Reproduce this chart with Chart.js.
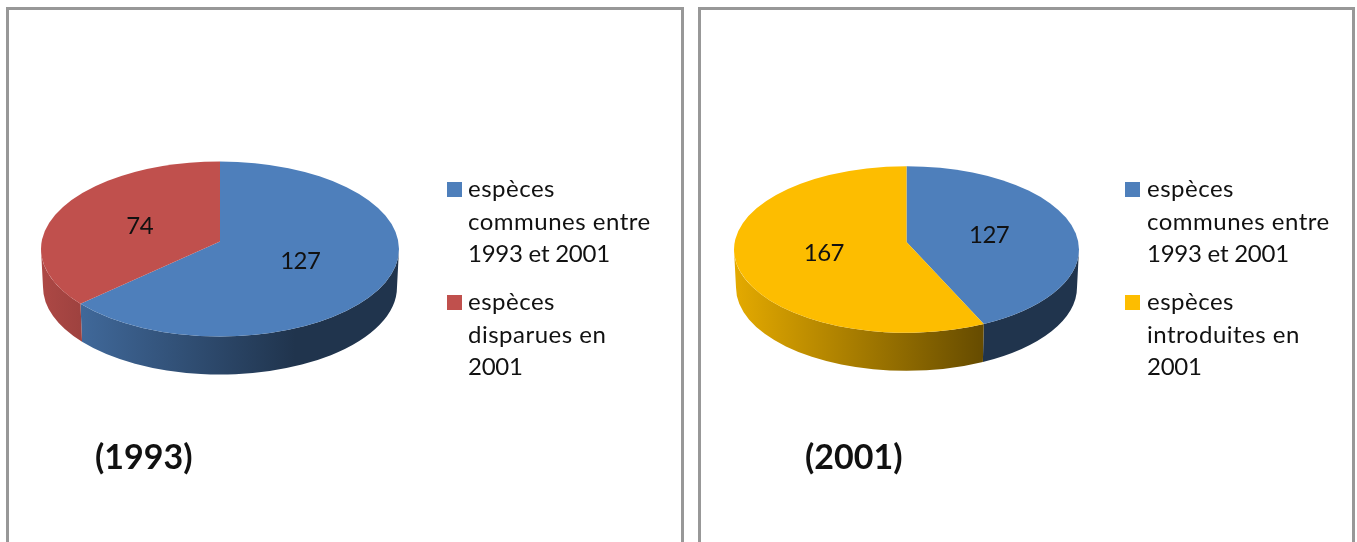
<!DOCTYPE html>
<html>
<head>
<meta charset="utf-8">
<script src="https://cdn.jsdelivr.net/npm/chart.js@4"></script>
<style>
    html, body { margin: 0; padding: 0; background: #fff; }
    body { position: relative; width: 1357px; height: 542px; overflow: hidden; font-family: Lato, sans-serif; color: #111; }
    .panel { position: absolute; top: 7px; height: 600px; box-sizing: border-box; border: 3px solid #989898; }
    .holder { position: absolute; top: 0; height: 542px; }
    .swatch { position: absolute; width: 15px; height: 15px; }
    .legendText { position: absolute; font-size: 24px; letter-spacing: 0.5px; line-height: 32.5px; white-space: nowrap; }
    .legendText .num { letter-spacing: -0.25px; }
    .year { position: absolute; top: 434px; font-size: 34px; line-height: 44px; font-weight: bold; white-space: nowrap; }
</style>
</head>
<body>
<div class="panel" style="left:6px;width:678px"></div>
<div class="panel" style="left:698px;width:657px"></div>
<div class="holder" style="left:0;width:690px"><canvas id="chart1993"></canvas></div>
<div class="holder" style="left:690px;width:667px"><canvas id="chart2001"></canvas></div>
<div id="legends"></div>
<script>
// data
const labels1993 = [["espèces", "communes entre", "1993 et 2001"], ["espèces", "disparues en", "2001"]];
const values1993 = [127, 74];
const colors1993 = ["#4e7fbb", "#c0504d"];
const title1993 = "(1993)";

const labels2001 = [["espèces", "communes entre", "1993 et 2001"], ["espèces", "introduites en", "2001"]];
const values2001 = [127, 167];
const colors2001 = ["#4e7fbb", "#fdbd00"];
const title2001 = "(2001)";

const squash1993 = 87.5 / 179;
const squash2001 = 83.3 / 172.5;
const depth = 38;
const tipLift = 7.5; // the pie's tip sits a bit above the middle of the ellipse
const perspective = 1.09; // front of the disc looks bigger than the back

function shade(hex, k) {
    const n = parseInt(hex.slice(1), 16);
    const r = Math.round((n >> 16) * k), g = Math.round(((n >> 8) & 255) * k), b = Math.round((n & 255) * k);
    return "rgb(" + r + "," + g + "," + b + ")";
}

// moves a slice edge along the rim the way the perspective does
function rimAngle(a) {
    const half = (a + Math.PI / 2) / 2;
    return 2 * Math.atan2(Math.sin(half), perspective * Math.cos(half)) - Math.PI / 2;
}

// tilts the pie: uses the arcs chart.js worked out and draws them as a thick disc
const tiltPlugin = {
    id: "tilt",
    beforeDatasetsDraw(chart, args, opts) {
        const ctx = chart.ctx;
        const arcs = chart.getDatasetMeta(0).data;
        const colors = chart.data.datasets[0].backgroundColor;

        arcs.forEach((arc, i) => {
            const rx = arc.outerRadius, ry = rx * opts.squash;
            const start = rimAngle(arc.startAngle), end = rimAngle(arc.endAngle);
            // front wall, only the part of the slice that faces us
            const a = Math.max(start, 0);
            const b = Math.min(end, Math.PI);
            if (b > a) {
                const grad = ctx.createLinearGradient(arc.x - rx, 0, arc.x + rx * 0.42, 0);
                grad.addColorStop(0, shade(colors[i], 0.9));
                grad.addColorStop(1, shade(colors[i], 0.41));
                ctx.beginPath();
                ctx.ellipse(arc.x, arc.y, rx, ry, 0, a, b);
                ctx.ellipse(arc.x, arc.y + depth, rx - 2, ry, 0, b, a, true);
                ctx.closePath();
                ctx.fillStyle = grad;
                ctx.fill();
            }
        });

        arcs.forEach((arc, i) => {
            const rx = arc.outerRadius, ry = rx * opts.squash;
            ctx.beginPath();
            ctx.moveTo(arc.x, arc.y - tipLift);
            ctx.ellipse(arc.x, arc.y, rx, ry, 0, rimAngle(arc.startAngle), rimAngle(arc.endAngle));
            ctx.closePath();
            ctx.fillStyle = colors[i];
            ctx.fill();
        });
        return false;
    },
    afterDraw(chart, args, opts) {
        const ctx = chart.ctx;
        const arcs = chart.getDatasetMeta(0).data;
        ctx.save();
        ctx.font = "24px Lato, sans-serif";
        ctx.letterSpacing = "-0.5px";
        ctx.fillStyle = "#111";
        ctx.textAlign = "center";
        ctx.textBaseline = "middle";
        arcs.forEach((arc, i) => {
            const mid = (arc.startAngle + arc.endAngle) / 2;
            const x = arc.x + Math.cos(mid) * arc.outerRadius * 0.49;
            const y = arc.y - tipLift + Math.sin(mid) * arc.outerRadius * opts.squash * 0.5 + 2;
            ctx.fillText(String(chart.data.datasets[0].data[i]), x, y);
        });
        ctx.restore();
    }
};

function makePie(id, labels, values, colors, squash, padding) {
    new Chart(document.getElementById(id), {
        type: "pie",
        data: {
            labels: labels.map(l => l.join(" ")),
            datasets: [{ data: values, backgroundColor: colors, borderWidth: 0 }]
        },
        options: {
            responsive: true,
            maintainAspectRatio: false,
            animation: false,
            layout: { padding: padding },
            plugins: {
                legend: { display: false },
                tooltip: { enabled: false },
                tilt: { squash: squash }
            }
        },
        plugins: [tiltPlugin]
    });
}

makePie("chart1993", labels1993, values1993, colors1993, squash1993, { left: 41, right: 291, top: 70, bottom: 114 });
makePie("chart2001", labels2001, values2001, colors2001, squash2001, { left: 44, right: 278, top: 77, bottom: 120 });

// legends and years as plain text
function addLegend(labels, colors, swatchX, textX) {
    const box = document.getElementById("legends");
    const tops = [172, 285];
    labels.forEach((lines, i) => {
        const s = document.createElement("div");
        s.className = "swatch";
        s.style.left = swatchX + "px";
        s.style.top = (tops[i] + 10) + "px";
        s.style.background = colors[i];
        box.appendChild(s);
        const t = document.createElement("div");
        t.className = "legendText";
        t.style.left = textX + "px";
        t.style.top = tops[i] + "px";
        // lato digits run wider than the original font
        t.innerHTML = lines.map(l => /\d/.test(l) ? '<span class="num">' + l + "</span>" : l).join("<br>");
        box.appendChild(t);
    });
}
function addYear(text, x) {
    const y = document.createElement("div");
    y.className = "year";
    y.style.left = x + "px";
    y.textContent = text;
    document.getElementById("legends").appendChild(y);
}
addLegend(labels1993, colors1993, 447, 468);
addLegend(labels2001, colors2001, 1125, 1147);
addYear(title1993, 95);
addYear(title2001, 805);
</script>
</body>
</html>
